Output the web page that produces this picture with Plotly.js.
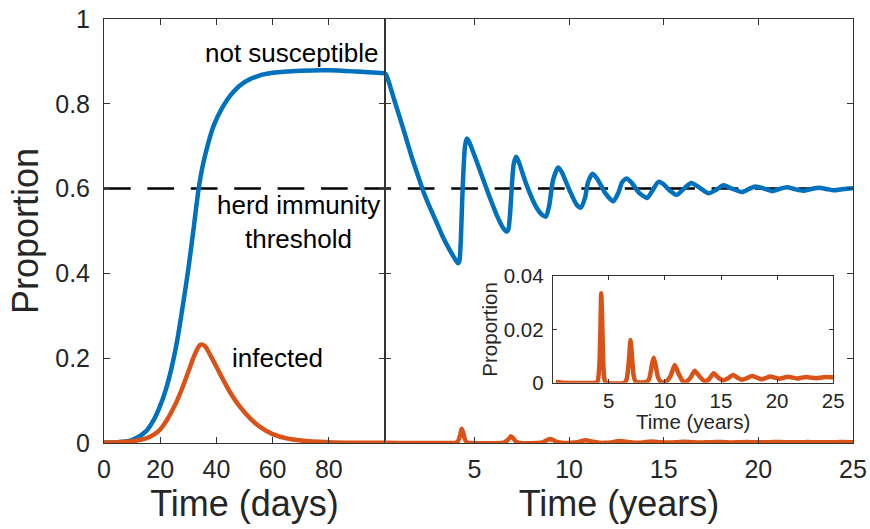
<!DOCTYPE html>
<html>
<head>
<meta charset="utf-8">
<script src="https://cdn.plot.ly/plotly-3.0.1.min.js"></script>
<style>
  html, body { margin: 0; padding: 0; background: #fff; }
  #chart { width: 870px; height: 529px; }
</style>
</head>
<body>
<div id="chart"></div>
<script>
// ---- Data: first 100 days ----
var days = [0, 5, 10, 15, 18, 20, 22, 24, 26, 28, 30, 32, 33.6, 35, 37, 39, 42, 46, 50, 55, 60, 70, 80, 90, 100];
var notSusceptibleDays = [0.001, 0.002, 0.007, 0.028, 0.058, 0.088, 0.126, 0.176, 0.240, 0.322, 0.410, 0.512, 0.596, 0.650, 0.705, 0.748, 0.790, 0.828, 0.851, 0.866, 0.873, 0.878, 0.879, 0.876, 0.872];

var daysI = [0, 5, 10, 15, 18, 20, 22, 24, 26, 28, 30, 32, 34, 35, 36, 38, 40, 42.5, 45, 48.4, 52, 55.5, 60, 65, 70, 80, 90, 100];
var infectedDays = [0.001, 0.002, 0.004, 0.011, 0.021, 0.032, 0.050, 0.073, 0.100, 0.132, 0.168, 0.204, 0.230, 0.232, 0.228, 0.205, 0.180, 0.148, 0.118, 0.085, 0.058, 0.038, 0.021, 0.011, 0.006, 0.002, 0.0007, 0.0003];

// ---- Data: 25 years ----
var years = [0.274, 0.33, 0.45, 0.7, 1.03, 1.38, 1.73, 2.09, 2.26, 2.62, 2.97, 3.32, 3.68, 4.03, 4.13, 4.20, 4.28, 4.35, 4.42, 4.50, 4.59, 4.70, 4.9, 5.27, 5.80, 6.2, 6.5, 6.68, 6.78, 6.88, 6.98, 7.08, 7.21, 7.35, 7.74, 8.27, 8.6, 8.78, 8.95, 9.15, 9.42, 9.6, 10.04, 10.4, 10.62, 10.85, 11.0, 11.24, 11.5, 11.9, 12.33, 12.6, 12.8, 13.04, 13.3, 13.7, 14.13, 14.4, 14.72, 15.0, 15.3, 15.69, 16.0, 16.45, 16.8, 17.37, 17.8, 18.16, 18.6, 19.14, 19.5, 19.84, 20.3, 20.73, 21.1, 21.52, 21.9, 22.37, 22.8, 23.2, 23.6, 23.99, 24.5, 25.0];
var notSusceptibleYears = [0.872, 0.869, 0.855, 0.818, 0.771, 0.720, 0.668, 0.621, 0.598, 0.558, 0.523, 0.487, 0.456, 0.430, 0.424, 0.428, 0.480, 0.570, 0.645, 0.700, 0.718, 0.712, 0.690, 0.645, 0.580, 0.535, 0.508, 0.499, 0.502, 0.540, 0.610, 0.660, 0.675, 0.662, 0.610, 0.556, 0.537, 0.534, 0.560, 0.620, 0.650, 0.640, 0.594, 0.562, 0.555, 0.580, 0.615, 0.635, 0.622, 0.590, 0.570, 0.590, 0.615, 0.624, 0.614, 0.590, 0.578, 0.595, 0.616, 0.610, 0.596, 0.585, 0.597, 0.613, 0.605, 0.589, 0.598, 0.608, 0.600, 0.592, 0.599, 0.605, 0.600, 0.594, 0.599, 0.603, 0.599, 0.595, 0.599, 0.602, 0.599, 0.596, 0.599, 0.601];

var yearsI = [0.274, 1.0, 3.8, 4.0, 4.15, 4.25, 4.32, 4.40, 4.50, 4.62, 4.8, 6.4, 6.6, 6.8, 6.93, 7.05, 7.2, 7.4, 8.3, 8.6, 8.85, 9.0, 9.15, 9.4, 9.7, 10.1, 10.5, 10.87, 11.2, 11.6, 11.9, 12.3, 12.65, 13.0, 13.5, 13.9, 14.34, 14.8, 15.2, 15.6, 16.07, 16.5, 16.9, 17.3, 17.76, 18.2, 18.6, 19.0, 19.39, 19.8, 20.2, 20.6, 21.0, 21.4, 21.8, 22.2, 22.6, 23.0, 23.5, 23.9, 24.3, 25.0];
var infectedYears = [0.0003, 0.0, 0.0, 0.0005, 0.006, 0.02, 0.0335, 0.025, 0.008, 0.001, 0.0, 0.0, 0.0015, 0.009, 0.016, 0.011, 0.003, 0.0003, 0.0002, 0.0015, 0.007, 0.0094, 0.007, 0.0018, 0.0002, 0.0005, 0.0025, 0.0066, 0.0035, 0.0006, 0.0004, 0.002, 0.0045, 0.0028, 0.0007, 0.0012, 0.0035, 0.0017, 0.0009, 0.0016, 0.0029, 0.0018, 0.0011, 0.0017, 0.0025, 0.0019, 0.0013, 0.0018, 0.0023, 0.0019, 0.0015, 0.0019, 0.0022, 0.0019, 0.0016, 0.0019, 0.0021, 0.0019, 0.0017, 0.0019, 0.0021, 0.0020];

var herdThreshold = 0.6;
var dayTicks = [0, 20, 40, 60, 80];
var yearTicks = [5, 10, 15, 20, 25];
var propTicks = [0, 0.2, 0.4, 0.6, 0.8, 1];
var insetPropTicks = [0, 0.02, 0.04];
var insetPropLabels = ['0', '0.02', '0.04'];

var BLUE = '#0072BD', ORANGE = '#D95319', AX = '#262626';
var FONT = '"Liberation Sans", Arial, Helvetica, sans-serif';

var traces = [
  {x: days, y: notSusceptibleDays, xaxis: 'x', yaxis: 'y', mode: 'lines',
   line: {color: BLUE, width: 4.5, shape: 'spline', smoothing: 0.8}},
  {x: daysI, y: infectedDays, xaxis: 'x', yaxis: 'y', mode: 'lines',
   line: {color: ORANGE, width: 4.5, shape: 'spline', smoothing: 0.8}},
  {x: years, y: notSusceptibleYears, xaxis: 'x2', yaxis: 'y2', mode: 'lines',
   line: {color: BLUE, width: 4.5, shape: 'spline', smoothing: 0.6}},
  {x: yearsI, y: infectedYears, xaxis: 'x2', yaxis: 'y2', mode: 'lines',
   line: {color: ORANGE, width: 4.5, shape: 'spline', smoothing: 0.6}},
  {x: yearsI, y: infectedYears, xaxis: 'x3', yaxis: 'y3', mode: 'lines',
   line: {color: ORANGE, width: 4.5, shape: 'spline', smoothing: 0.6}}
];

function axisBase(extra) {
  var a = {
    showline: true, linecolor: '#333', linewidth: 1, mirror: 'ticks',
    ticks: 'inside', ticklen: 6, tickwidth: 1, tickcolor: '#333',
    showgrid: false, zeroline: false, fixedrange: true,
    tickfont: {family: FONT, size: 25, color: AX}
  };
  for (var k in extra) a[k] = extra[k];
  return a;
}

var layout = {
  width: 870, height: 529,
  margin: {l: 104, r: 17, t: 19, b: 86},
  paper_bgcolor: '#fff', plot_bgcolor: 'rgba(0,0,0,0)',
  showlegend: false,
  xaxis: axisBase({domain: [0, 0.3752], range: [0, 100], tickvals: dayTicks, anchor: 'y',
    ticklabelstandoff: 4,
    title: {text: 'Time (days)', font: {family: FONT, size: 36, color: AX}, standoff: 0}}),
  yaxis: axisBase({domain: [0, 1], range: [0, 1], tickvals: propTicks, anchor: 'x',
    ticklabelstandoff: 8,
    title: {text: 'Proportion', font: {family: FONT, size: 36, color: AX}, standoff: 5}}),
  xaxis2: axisBase({domain: [0.3752, 1], range: [0.274, 25], tickvals: yearTicks, anchor: 'y2',
    ticklabelstandoff: 4,
    title: {text: 'Time (years)', font: {family: FONT, size: 36, color: AX}, standoff: 0}}),
  yaxis2: axisBase({domain: [0, 1], range: [0, 1], tickvals: propTicks, anchor: 'x2', showticklabels: false}),
  xaxis3: axisBase({domain: [0.5991, 0.9736], range: [0, 25], tickvals: yearTicks, anchor: 'y3', ticklen: 4,
    tickfont: {family: FONT, size: 20.5, color: AX}}),
  yaxis3: axisBase({domain: [0.1422, 0.3939], range: [0, 0.04], tickvals: insetPropTicks, ticktext: insetPropLabels,
    anchor: 'x3', ticklen: 4, ticklabelstandoff: 4,
    tickfont: {family: FONT, size: 20.5, color: AX},
    title: {text: 'Proportion', font: {family: FONT, size: 20.5, color: AX}, standoff: 0}}),
  shapes: [
    {type: 'line', xref: 'paper', yref: 'y', x0: 0, x1: 1, y0: herdThreshold, y1: herdThreshold,
     layer: 'below', line: {color: '#000', width: 2.5, dash: '26.7px,16.7px'}}
  ],
  annotations: [
    {text: 'not susceptible', xref: 'x', yref: 'y', x: 98.2, y: 0.92, xanchor: 'right', yanchor: 'middle',
     showarrow: false, font: {family: FONT, size: 26, color: '#000'}},
    {text: 'herd immunity', xref: 'x', yref: 'y', x: 69.3, y: 0.561, xanchor: 'center', yanchor: 'middle',
     showarrow: false, font: {family: FONT, size: 26, color: '#000'}},
    {text: 'threshold', xref: 'x', yref: 'y', x: 69.3, y: 0.481, xanchor: 'center', yanchor: 'middle',
     showarrow: false, font: {family: FONT, size: 26, color: '#000'}},
    {text: 'infected', xref: 'x', yref: 'y', x: 61.7, y: 0.201, xanchor: 'center', yanchor: 'middle',
     showarrow: false, font: {family: FONT, size: 26, color: '#000'}},
    {text: 'Time (years)', xref: 'x3 domain', yref: 'y3 domain', x: 0.5, y: -0.36, xanchor: 'center', yanchor: 'middle',
     showarrow: false, font: {family: FONT, size: 20.5, color: AX}}
  ]
};

Plotly.newPlot('chart', traces, layout, {staticPlot: true, displayModeBar: false});
</script>
</body>
</html>
